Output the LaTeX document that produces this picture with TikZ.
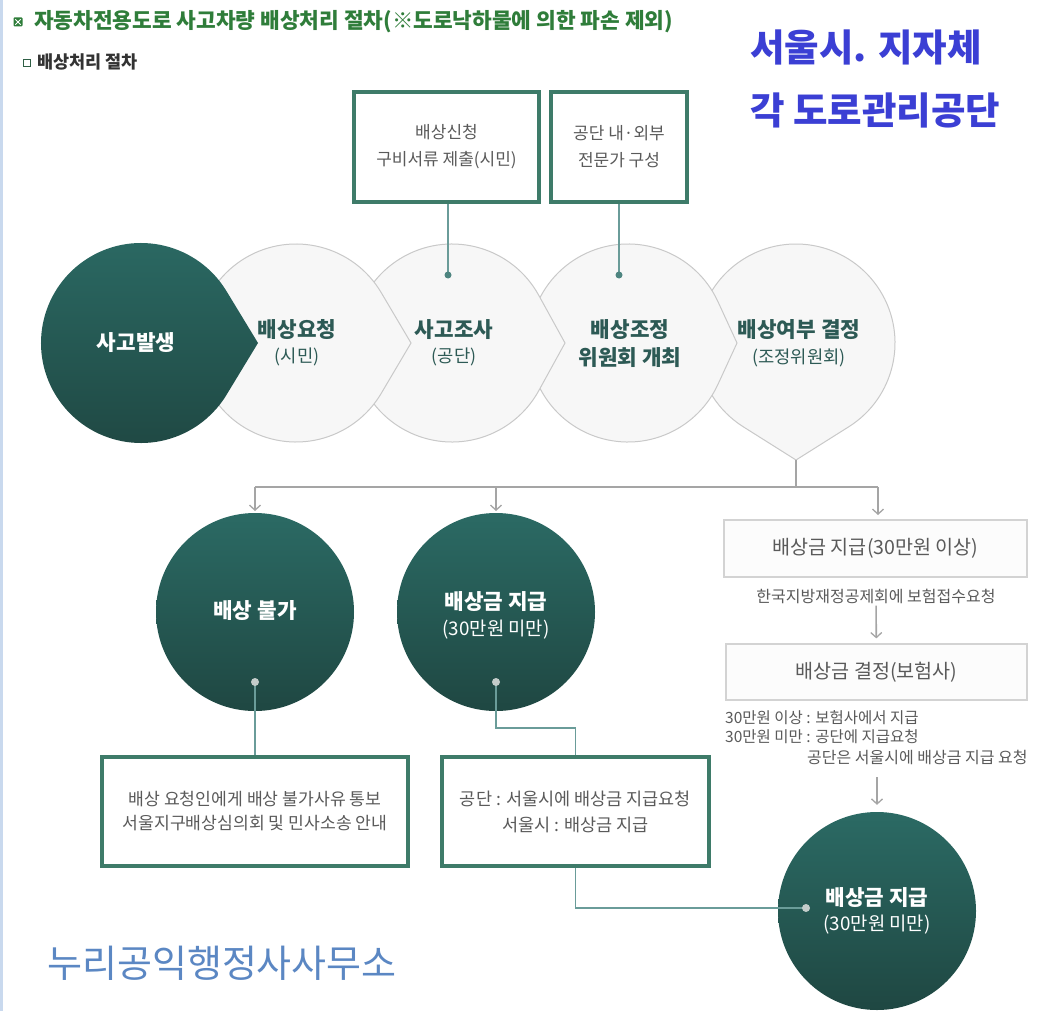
\documentclass[tikz,border=0pt]{standalone}
\usepackage{fontspec}
\setmainfont{Noto Sans CJK KR}
\usetikzlibrary{arrows.meta,calc}
\definecolor{titlegreen}{HTML}{2F7D3A}
\definecolor{subgreen}{HTML}{2F5F45}
\definecolor{boxgreen}{HTML}{3E7B69}
\definecolor{boxtext}{HTML}{5A5A5A}
\definecolor{tealtxt}{HTML}{2D5A55}
\definecolor{lightfill}{HTML}{F7F7F7}
\definecolor{lightline}{HTML}{C9C9C9}
\definecolor{dkTop}{HTML}{2B6A64}
\definecolor{dkBot}{HTML}{1F4742}
\definecolor{conncol}{HTML}{6A9C99}
\definecolor{dotteal}{HTML}{4E8580}
\definecolor{dotlight}{HTML}{C3CCCA}
\definecolor{arrcol}{HTML}{A5A5A5}
\definecolor{gboxline}{HTML}{D3D3D3}
\definecolor{gboxfill}{HTML}{FCFCFC}
\definecolor{bluetxt}{HTML}{3B3FD4}
\definecolor{nuritxt}{HTML}{5B87C3}
\definecolor{leftline}{HTML}{C9D9EE}
\definecolor{subtxt}{HTML}{333333}
\newcommand\teardrop[6]{%
  \pgfmathsetmacro\tdth{acos(#4/#5)}%
  \path[#1] ($(#2,#3)+(#6:#5)$) -- ($(#2,#3)+({#6+\tdth}:#4)$)
    arc[start angle={#6+\tdth}, end angle={#6+360-\tdth}, radius=#4] -- cycle;}
\begin{document}
\begin{tikzpicture}[x=1pt,y=1pt,
  every node/.style={inner sep=0pt},
  greenbox/.style={draw=boxgreen, line width=4pt, fill=white, align=center, text=boxtext},
  graybox/.style={draw=gboxline, line width=1.2pt, fill=gboxfill, text=boxtext,
    font=\fontsize{19.6}{23}\selectfont},
  lightdrop/.style={fill=lightfill, draw=lightline, line width=1pt},
  darkdrop/.style={top color=dkTop, bottom color=dkBot},
  darkcirc/.style={circle, minimum size=198pt, top color=dkTop, bottom color=dkBot},
  conn/.style={draw=conncol, line width=1.3pt},
  arrline/.style={draw=arrcol, line width=1.6pt},
  arr/.style={draw=arrcol, line width=1.6pt, -{Straight Barb[length=5pt,width=11pt,line width=1.3pt]}},
  bigb/.style={font=\fontsize{21.3}{25}\selectfont\bfseries},
  smallr/.style={font=\fontsize{17.7}{21}\selectfont},
  circsub/.style={font=\fontsize{18.8}{22}\selectfont, text=white},
  smalltxt/.style={font=\fontsize{16}{19}\selectfont, text=boxtext},
]
\useasboundingbox (0,0) rectangle (1059,-1011);
\fill[white] (0,0) rectangle (1059,-1011);
\draw[leftline, line width=2.5pt] (1.25,0) -- (1.25,-1011);

% title
\node[fill=titlegreen, minimum size=9pt, rounded corners=1pt] (ico1) at (18,-22) {};
\draw[white, line width=1pt] ($(ico1.north west)+(2,-2)$) -- ($(ico1.south east)+(-2,2)$)
  ($(ico1.north east)+(-2,-2)$) -- ($(ico1.south west)+(2,2)$);
\node[anchor=west, text=titlegreen, font=\fontsize{21.4}{25}\selectfont\bfseries] (title) at (34,-22)
  {자동차전용도로 사고차량 배상처리 절차(※도로낙하물에 의한 파손 제외)};
\node[draw=subgreen, line width=1.3pt, fill=white, minimum size=7pt] (ico2) at (27,-63) {};
\node[anchor=west, text=subtxt, font=\fontsize{17.5}{20}\selectfont\bfseries] (sub) at (37,-62) {배상처리 절차};

% top-right and bottom-left texts
\node[anchor=west, text=bluetxt, font=\fontsize{37.5}{42}\selectfont\bfseries] (blue1) at (750,-47) {서울시. 지자체};
\node[anchor=west, text=bluetxt, font=\fontsize{37.5}{42}\selectfont\bfseries] (blue2) at (750,-110) {각 도로관리공단};
\node[anchor=west, text=nuritxt, font=\fontsize{38}{42}\selectfont] (nuri) at (47,-963) {누리공익행정사사무소};

% teardrops
\teardrop{lightdrop}{796}{-343}{99}{117}{-90}
\teardrop{lightdrop}{628}{-343}{99}{109}{0}
\teardrop{lightdrop}{452}{-343}{99}{113}{0}
\teardrop{lightdrop}{296}{-343}{99}{115}{0}
\teardrop{darkdrop}{141}{-343}{100}{117}{0}

\node[bigb, text=white] (d0) at (136,-343) {사고발생};
\node[bigb, text=tealtxt] (l1) at (297,-330) {배상요청};
\node[smallr, text=tealtxt] (l1s) at (297,-357) {(시민)};
\node[bigb, text=tealtxt] (l2) at (454,-330) {사고조사};
\node[smallr, text=tealtxt] (l2s) at (454,-357) {(공단)};
\node[bigb, text=tealtxt] (l3) at (630,-330) {배상조정};
\node[bigb, text=tealtxt] (l3s) at (630,-358) {위원회 개최};
\node[bigb, text=tealtxt] (l4) at (799,-330) {배상여부 결정};
\node[smallr, text=tealtxt] (l4s) at (799,-358) {(조정위원회)};

% top boxes
\node[greenbox, minimum width=185pt, minimum height=110pt, font=\fontsize{17}{27}\selectfont] (b1) at (446.5,-147)
  {배상신청\\구비서류 제출(시민)};
\node[greenbox, minimum width=136pt, minimum height=110pt, font=\fontsize{17}{27}\selectfont] (b2) at (619,-147)
  {공단 내·외부\\전문가 구성};
\coordinate (p1) at (448,-275);
\coordinate (p2) at (619,-275);
\draw[conn] (p1 |- b1.south) -- (p1);
\draw[conn] (p2 |- b2.south) -- (p2);
\fill[dotteal] (p1) circle (3.5pt);
\fill[dotteal] (p2) circle (3.5pt);

% distribution
\coordinate (t4) at (796,-460);
\coordinate (sp) at (796,-487);
\coordinate (spL) at (255,-487);
\coordinate (spM) at (496,-487);
\coordinate (spR) at (878,-487);
\coordinate (aL) at (255,-511);
\coordinate (aM) at (496,-511);
\coordinate (aR) at (878,-515);
\draw[arrline] (t4) -- (sp);
\draw[arrline] (spL) -- (spR);
\draw[arr] (spL) -- (aL);
\draw[arr] (spM) -- (aM);
\draw[arr] (spR) -- (aR);

% dark circles
\node[darkcirc] (c1) at (255,-612) {};
\node[darkcirc] (c2) at (496,-612) {};
\node[bigb, text=white] (c1t) at (255,-611) {배상 불가};
\node[bigb, text=white] (c2t) at (496,-602) {배상금 지급};
\node[circsub] (c2s) at (496,-630) {(30만원 미만)};
\coordinate (dc1) at (255,-682);
\coordinate (dc2) at (496,-682);

% bottom boxes
\node[greenbox, minimum width=306pt, minimum height=109pt, font=\fontsize{17.2}{24}\selectfont] (b3) at (255,-811.5)
  {배상 요청인에게 배상 불가사유 통보\\서울지구배상심의회 및 민사소송 안내};
\node[greenbox, minimum width=267pt, minimum height=109pt, font=\fontsize{17.5}{26}\selectfont] (b4) at (575.5,-811.5)
  {공단 : 서울시에 배상금 지급요청\\서울시 : 배상금 지급};

% right column
\node[graybox, minimum width=303pt, minimum height=57pt] (g1) at (875.5,-548.5) {배상금 지급(30만원 이상)};
\node[smalltxt] (g1l) at (876,-596) {한국지방재정공제회에 보험접수요청};
\node[graybox, minimum width=301pt, minimum height=56pt] (g2) at (876.5,-672) {배상금 결정(보험사)};
\draw[arr, shorten >=5pt, shorten <=2pt] (g1l) -- (g2);
\node[smalltxt, font=\fontsize{15.5}{19}\selectfont, anchor=west] (n1) at (725,-718) {30만원 이상 : 보험사에서 지급};
\node[smalltxt, font=\fontsize{15.5}{19}\selectfont, anchor=west] (n2) at (725,-737) {30만원 미만 : 공단에 지급요청};
\node[smalltxt, anchor=west] (n3) at (807,-757) {공단은 서울시에 배상금 지급 요청};

\node[darkcirc] (c3) at (877,-911) {};
\node[bigb, text=white] (c3t) at (877,-898) {배상금 지급};
\node[circsub] (c3s) at (877,-925) {(30만원 미만)};
\coordinate (a5s) at (877,-777);
\draw[arr, shorten >=7pt] (a5s) -- (c3.north);
\coordinate (dc3) at (806,-908);

% connectors
\coordinate (k1) at (496,-728);
\draw[conn] (dc1) -- (b3.north);
\draw[conn] (dc2) -- (k1) -| (b4.north);
\draw[conn] (b4.south) |- (dc3);
\fill[dotlight] (dc1) circle (4pt);
\fill[dotlight] (dc2) circle (4pt);
\fill[dotlight] (dc3) circle (4pt);
\end{tikzpicture}
\end{document}
